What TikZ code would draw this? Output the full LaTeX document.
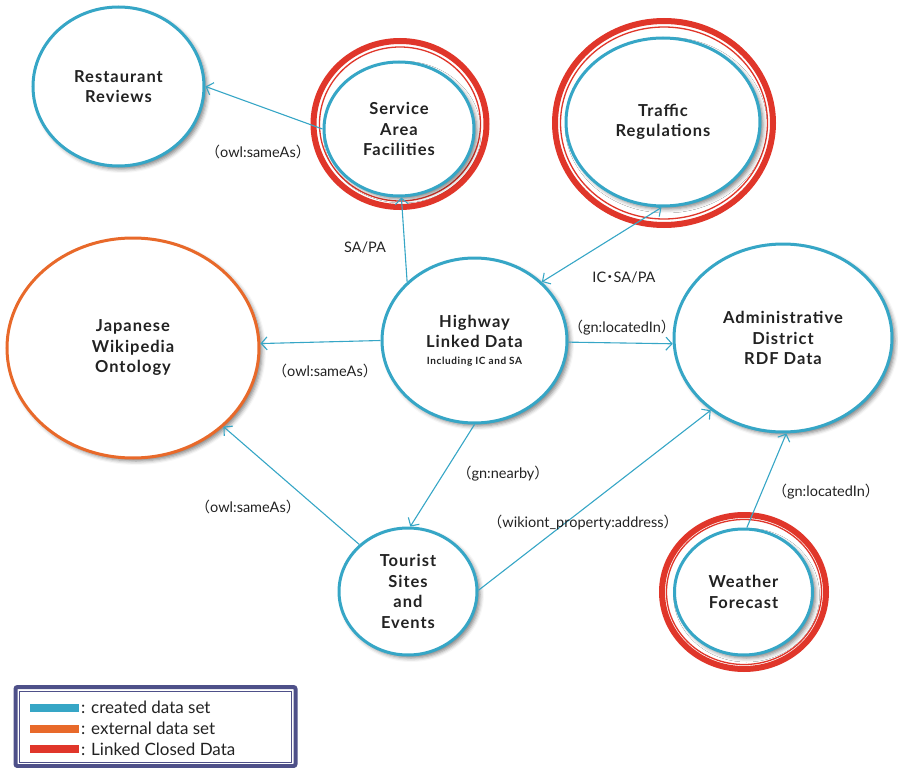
\documentclass[tikz,border=0pt]{standalone}
\usepackage{fontspec}
\setmainfont{Lato}
\newfontfamily\labelfont[LetterSpace=6]{Lato}
\newfontfamily\cjk{Noto Sans CJK JP}
\usetikzlibrary{shapes.geometric,arrows.meta,shadows.blur}

\definecolor{dsblue}{HTML}{36A6C6}
\definecolor{dsorange}{HTML}{E8692A}
\definecolor{dsred}{HTML}{E0362A}
\definecolor{legendframe}{HTML}{4E5089}
\definecolor{ink}{HTML}{222222}

% full-width brackets around a property name
\newcommand{\prop}[1]{{\cjk （}#1{\cjk ）}}

\begin{document}
\begin{tikzpicture}[x=1pt,y=-1pt,
  dataset/.style={ellipse, draw=dsblue, line width=3pt, fill=white,
    inner sep=0pt, align=center, text=ink,
    font={\labelfont\bfseries\fontsize{16.5}{20.5}\selectfont},
    blur shadow={shadow xshift=3pt, shadow yshift=-3pt,
      shadow blur radius=4pt, shadow opacity=50}},
  external/.style={dataset, draw=dsorange},
  closedring/.style={ellipse, draw=dsred, line width=6pt, fill=white, inner sep=0pt},
  thinring/.style={ellipse, draw=dsred, line width=1.3pt, inner sep=0pt},
  link/.style={draw=dsblue, line width=1.1pt,
    -{Straight Barb[length=6pt,width=13pt,line width=1.1pt]}},
  twoway/.style={link,
    {Straight Barb[length=6pt,width=13pt,line width=1.1pt]}-{Straight Barb[length=6pt,width=13pt,line width=1.1pt]}},
  linklabel/.style={font=\fontsize{14.5}{16}\selectfont, text=ink, inner sep=1pt},
  legendbar/.style={minimum width=49pt, minimum height=8pt, inner sep=0pt},
  legendtext/.style={anchor=west, font=\fontsize{17}{19}\selectfont, text=ink, inner sep=0pt}
]
\useasboundingbox (0,0) rectangle (898,768);

% Linked Closed Data rings
\node[closedring, minimum width=173pt, minimum height=166pt] (safring) at (400,124) {};
\node[thinring,   minimum width=161pt, minimum height=154pt] (safthin) at (400,124) {};
\node[closedring, minimum width=218pt, minimum height=204pt] (trring) at (664,123) {};
\node[thinring,   minimum width=207pt, minimum height=192pt] (trthin) at (664,123) {};
\node[closedring, minimum width=164pt, minimum height=154pt] (wfring) at (744,592) {};
\node[thinring,   minimum width=155pt, minimum height=145pt] (wfthin) at (744,592) {};

% data sets
\node[dataset, minimum width=171pt, minimum height=159pt] (rr) at (118.5,86.5) {Restaurant\\Reviews};
\node[dataset, minimum width=150pt, minimum height=134pt] (saf) at (399,129) {Service\\Area\\Facilities};
\node[dataset, minimum width=194pt, minimum height=168pt] (tr) at (663,122) {Traffic\\Regulations};
\node[external, minimum width=252pt, minimum height=220pt] (jwo) at (133,348) {Japanese\\Wikipedia\\Ontology};
\node[dataset, minimum width=185pt, minimum height=165pt] (hw) at (474.5,340.5)
  {Highway\\Linked Data\\[-4pt]{\fontsize{10}{12}\selectfont Including IC and SA}};
\node[dataset, minimum width=218pt, minimum height=188pt] (adm) at (783,338) {Administrative\\District\\RDF Data};
\node[dataset, minimum width=138pt, minimum height=127pt] (tse) at (408,591.5) {Tourist\\Sites\\and\\Events};
\node[dataset, minimum width=138pt, minimum height=126pt] (wf) at (743.5,592) {Weather\\Forecast};

% links between data sets
\draw[link] (saf.180) -- (rr.0);
\draw[link] (hw.139) -- (saf.-88);
\draw[twoway] (hw.41) -- (tr.-91);
\draw[link] (hw.180) -- (jwo.2);
\draw[link] (hw.-1) -- (adm.183);
\draw[link] (hw.-90) -- (tse.88);
\draw[link] (tse.136) -- (jwo.-41);
\draw[link] (tse.1) -- (adm.225);
\draw[link] (wf.87) -- (adm.-88);

% link labels
\node[linklabel] (l1) at (258,152) {\prop{owl:sameAs}};
\node[linklabel] (l2) at (365,247) {SA/PA};
\node[linklabel] (l3) at (624,277) {IC\kern-3.5pt{\cjk ・}\kern-3.5pt SA/PA};
\node[linklabel] (l4) at (325,371) {\prop{owl:sameAs}};
\node[linklabel] (l5) at (622,328) {\prop{gn:locatedIn}};
\node[linklabel] (l6) at (503,474) {\prop{gn:nearby}};
\node[linklabel] (l7) at (248,507) {\prop{owl:sameAs}};
\node[linklabel] (l8) at (583,523) {\prop{wikiont\_property:address}};
\node[linklabel] (l9) at (826,492) {\prop{gn:locatedIn}};

% legend
\node[draw=legendframe, line width=4pt, rounded corners=2pt, fill=white,
      minimum width=280pt, minimum height=79pt, inner sep=0pt] (legend) at (155.5,726.5) {};
\node[draw=legendframe, line width=1pt, minimum width=272pt, minimum height=71pt,
      inner sep=0pt] (legendin) at (155.5,726.5) {};
\node[legendbar, fill=dsblue]   (barcreated)  at (54.5,707.5) {};
\node[legendbar, fill=dsorange] (barexternal) at (54.5,728.5) {};
\node[legendbar, fill=dsred]    (barclosed)   at (54.5,749) {};
\node[legendtext] (txtcreated)  at (81,707.5) {: created data set};
\node[legendtext] (txtexternal) at (81,728.5) {: external data set};
\node[legendtext] (txtclosed)   at (81,749)   {: Linked Closed Data};
\end{tikzpicture}
\end{document}
